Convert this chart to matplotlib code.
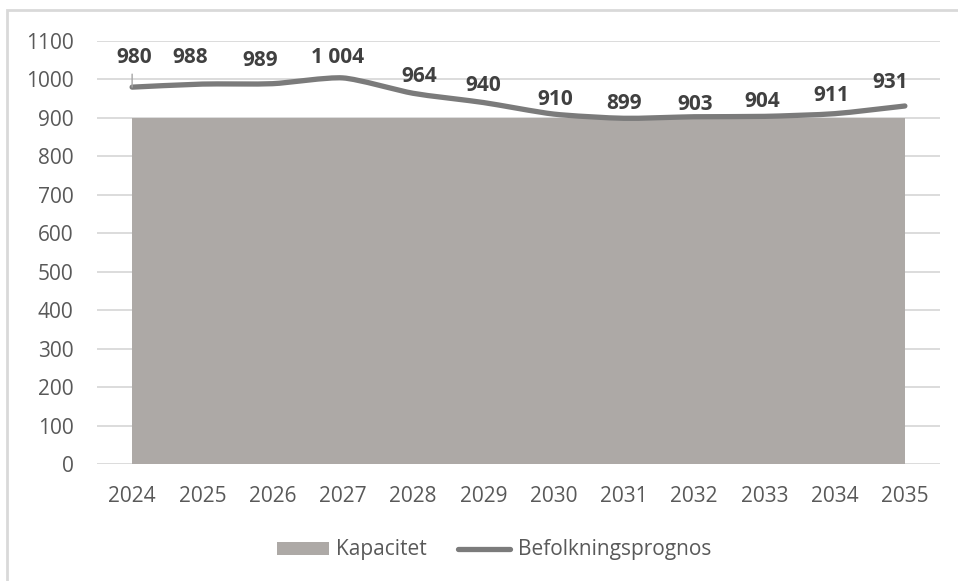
import matplotlib.pyplot as plt
from matplotlib.path import Path
from matplotlib.patches import PathPatch, Patch, Rectangle
from matplotlib.lines import Line2D
import numpy as np

plt.rcParams['font.family'] = ['Open Sans', 'DejaVu Sans']

# Data
years = [2024, 2025, 2026, 2027, 2028, 2029, 2030, 2031, 2032, 2033, 2034, 2035]
kapacitet = [900] * 12
prognos = [980, 988, 989, 1004, 964, 940, 910, 899, 903, 904, 911, 931]
labels = ['980', '988', '989', '1 004', '964', '940', '910', '899', '903', '904', '911', '931']
y_ticks = [0, 100, 200, 300, 400, 500, 600, 700, 800, 900, 1000, 1100]

# label offsets (pixels) as placed in the original
label_dx = [2, -12, -12, -5, 6, 0, 2, 0, 1, -2, -3, -15]
label_dy = [30, 27, 23, 20, 17, 17, 15, 15, 12, 15, 18, 23]

area_color = '#ADA9A6'
line_color = '#7B7B7B'
grid_color = '#D9D9D9'
tick_color = '#595959'
label_color = '#404040'

fig = plt.figure(figsize=(9.58, 5.81), dpi=100)
ax = fig.add_axes([97 / 958, 1 - 464 / 581, (940 - 97) / 958, (464 - 41) / 581])

# outer frame (cut off on right/bottom like the source)
fig.patches.append(Rectangle((7 / 958, -0.1), 1.2, 1.1 - 10 / 581, transform=fig.transFigure,
                             fill=False, edgecolor=grid_color, linewidth=2))

ax.set_xlim(2023.5, 2035.5)
ax.set_ylim(0, 1100)
ax.set_yticks(y_ticks)
ax.set_xticks(years)
ax.grid(axis='y', color=grid_color, linewidth=1.3)
ax.set_axisbelow(True)
for s in ax.spines.values():
    s.set_visible(False)
ax.tick_params(length=0, labelsize=15, labelcolor=tick_color)
ax.tick_params(axis='y', pad=17)
ax.tick_params(axis='x', pad=16)

ax.fill_between(years, 0, kapacitet, color=area_color, linewidth=0, zorder=2)

# smoothed line (Bezier segments, like Excel's smooth line)
tension = 1 / 9
pts = np.column_stack([years, prognos]).astype(float)
verts = [tuple(pts[0])]
codes = [Path.MOVETO]
n = len(pts)
for i in range(n - 1):
    p0 = pts[i - 1] if i > 0 else pts[i]
    p1 = pts[i]
    p2 = pts[i + 1]
    p3 = pts[i + 2] if i + 2 < n else pts[i + 1]
    c1 = p1 + (p2 - p0) * tension
    c2 = p2 - (p3 - p1) * tension
    verts += [tuple(c1), tuple(c2), tuple(p2)]
    codes += [Path.CURVE4] * 3
ax.add_patch(PathPatch(Path(verts, codes), fill=False, edgecolor=line_color,
                       linewidth=3.8, capstyle='round', zorder=3))

for x, y, t, dx, dy in zip(years, prognos, labels, label_dx, label_dy):
    ax.annotate(t, (x, y), xytext=(dx, dy), textcoords='offset pixels',
                ha='center', va='center', fontsize=15, fontweight='bold',
                color=label_color, zorder=4)

# small leader line on the first label
ax.annotate('', (years[0], prognos[0]), xytext=(0, 13), textcoords='offset pixels',
            arrowprops=dict(arrowstyle='-', color='#A6A6A6', lw=1, shrinkA=0, shrinkB=0))

handles = [Patch(facecolor=area_color, edgecolor='none'),
           Line2D([0], [0], color=line_color, linewidth=3.8, solid_capstyle='round')]
fig.legend(handles, ['Kapacitet', 'Befolkningsprognos'], loc='center',
           bbox_to_anchor=(494 / 958, 1 - 550 / 581), ncol=2, frameon=False,
           fontsize=15, labelcolor=tick_color, handlelength=2.5, handleheight=0.6,
           handletextpad=0.35, columnspacing=1.5)

plt.savefig('out.png', dpi=100)
